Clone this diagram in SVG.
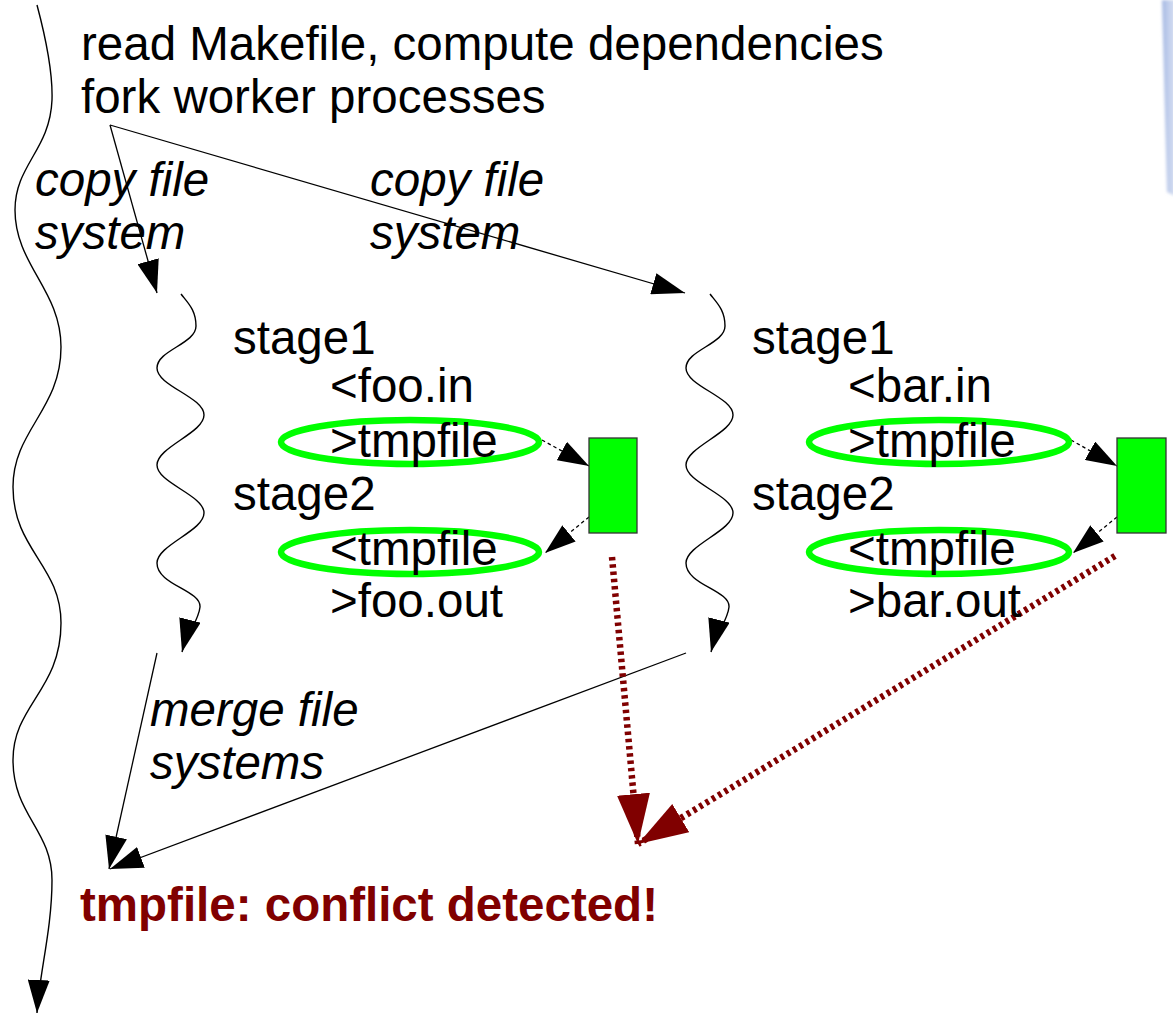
<svg xmlns="http://www.w3.org/2000/svg" xmlns:xlink="http://www.w3.org/1999/xlink" width="1173" height="1017" viewBox="0 0 1173 1017">
  <style>
    .txt { font-family: "Liberation Sans", Arial, sans-serif; font-size: 47.5px; fill: #000; }
    .it { font-style: italic; }
    .warn { font-weight: bold; fill: #800000; }
    .thin { fill: none; stroke: #000; stroke-width: 1.3; }
    .wave { fill: none; stroke: #000; stroke-width: 1.4; }
    .dash { fill: none; stroke: #000; stroke-width: 1.3; stroke-dasharray: 3.5 3; }
    .conflict { fill: none; stroke: #800000; stroke-width: 6.5; stroke-dasharray: 3.5 3.8; }
    .ring { fill: none; stroke: #00ff00; stroke-width: 6.5; }
    .box { fill: #00ff00; stroke: #333; stroke-width: 1.3; }
  </style>
  <defs>
    <marker id="head" viewBox="0 0 33 22" markerWidth="33" markerHeight="22" refX="33" refY="11" orient="auto" markerUnits="userSpaceOnUse">
      <path d="M0,0 L33,11 L0,22 z" fill="#000"/>
    </marker>
    <marker id="headSmall" viewBox="0 0 31 21" markerWidth="31" markerHeight="21" refX="31" refY="10.5" orient="auto" markerUnits="userSpaceOnUse">
      <path d="M0,0 L31,10.5 L0,21 z" fill="#000"/>
    </marker>
    <marker id="headRed" viewBox="0 0 50 33" markerWidth="50" markerHeight="33" refX="50" refY="16.5" orient="auto" markerUnits="userSpaceOnUse">
      <path d="M0,0 L50,16.5 L0,33 z" fill="#800000"/>
    </marker>
    <linearGradient id="edgeGlow" x1="0" y1="0" x2="1" y2="0">
      <stop offset="0" stop-color="#a3b7e2"/>
      <stop offset="0.5" stop-color="#c2cfec"/>
      <stop offset="1" stop-color="#d6dff2"/>
    </linearGradient>
    <filter id="soft" x="-50%" y="-10%" width="200%" height="120%">
      <feGaussianBlur stdDeviation="1.5"/>
    </filter>
    <!-- worker timeline (wavy, ends in an arrow) -->
    <path id="workerWave" d="M181,294 C188,303 196,310 196,326 C196,344 157,350 157,368 C157,386 204,397 204,415 C204,433 157,447 157,465 C157,483 204,495 204,513 C204,531 157,545 157,563 C157,585 201,590 200,607 C199,620 186,636 182,652"/>
  </defs>

  <rect width="1173" height="1017" fill="#fff"/>

  <!-- soft blue edge at the top right -->
  <path d="M1162,0 L1175,0 L1175,196 L1167,192 z" fill="url(#edgeGlow)" filter="url(#soft)"/>

  <g id="connectors">
    <!-- main process timeline -->
    <path class="wave" marker-end="url(#head)" d="M37,5 C45,35 53,70 52,100 C50,150 15,165 15,210 C15,265 61,290 61,347 C61,410 13,430 13,487 C13,550 61,565 61,623 C61,690 13,705 13,760 C13,815 52,830 52,880 C52,930 39,975 37,1013"/>
    <!-- worker timelines -->
    <use xlink:href="#workerWave" class="wave" marker-end="url(#head)"/>
    <use xlink:href="#workerWave" class="wave" marker-end="url(#head)" transform="translate(529,0)"/>
    <!-- fork -->
    <line class="thin" x1="110" y1="125" x2="157" y2="293" marker-end="url(#head)"/>
    <line class="thin" x1="110" y1="125" x2="685" y2="293" marker-end="url(#head)"/>
    <!-- merge -->
    <line class="thin" x1="157" y1="653" x2="109" y2="869" marker-end="url(#head)"/>
    <line class="thin" x1="686" y1="653" x2="110" y2="869" marker-end="url(#head)"/>
    <!-- tmpfile writes/reads -->
    <line class="dash" x1="542" y1="440" x2="589" y2="466" marker-end="url(#headSmall)"/>
    <line class="dash" x1="589" y1="517" x2="545" y2="553" marker-end="url(#headSmall)"/>
    <line class="dash" x1="1071" y1="440" x2="1117" y2="466" marker-end="url(#headSmall)"/>
    <line class="dash" x1="1117" y1="517" x2="1073" y2="553" marker-end="url(#headSmall)"/>
    <!-- conflicting results -->
    <line class="conflict" x1="612" y1="557" x2="638" y2="844" marker-end="url(#headRed)"/>
    <line class="conflict" x1="1115" y1="556" x2="638" y2="844" marker-end="url(#headRed)"/>
  </g>

  <g id="master">
    <text class="txt" x="81" y="60">read Makefile, compute dependencies</text>
    <text class="txt" x="81" y="113">fork worker processes</text>
  </g>

  <g id="fork-label-1">
    <text class="txt it" x="35" y="196">copy file</text>
    <text class="txt it" x="35" y="249">system</text>
  </g>

  <g id="fork-label-2">
    <text class="txt it" x="370" y="196">copy file</text>
    <text class="txt it" x="370" y="249">system</text>
  </g>

  <g id="worker-foo">
    <ellipse class="ring" cx="410" cy="442" rx="129" ry="22"/>
    <ellipse class="ring" cx="410" cy="552" rx="129" ry="22"/>
    <text class="txt" x="233" y="354">stage1</text>
    <text class="txt" x="330" y="402">&lt;foo.in</text>
    <text class="txt" x="330" y="457">&gt;tmpfile</text>
    <text class="txt" x="233" y="510">stage2</text>
    <text class="txt" x="330" y="565">&lt;tmpfile</text>
    <text class="txt" x="330" y="617">&gt;foo.out</text>
  </g>

  <g id="tmpfile-foo">
    <rect class="box" x="589" y="438" width="48" height="95"/>
  </g>

  <g id="worker-bar">
    <ellipse class="ring" cx="939" cy="442" rx="130" ry="22"/>
    <ellipse class="ring" cx="939" cy="552" rx="130" ry="22"/>
    <text class="txt" x="752" y="354">stage1</text>
    <text class="txt" x="848" y="402">&lt;bar.in</text>
    <text class="txt" x="848" y="457">&gt;tmpfile</text>
    <text class="txt" x="752" y="510">stage2</text>
    <text class="txt" x="848" y="565">&lt;tmpfile</text>
    <text class="txt" x="848" y="617">&gt;bar.out</text>
  </g>

  <g id="tmpfile-bar">
    <rect class="box" x="1117" y="438" width="49" height="95"/>
  </g>

  <g id="merge-label">
    <text class="txt it" x="150" y="726">merge file</text>
    <text class="txt it" x="150" y="779">systems</text>
  </g>

  <g id="result">
    <text class="txt warn" x="80" y="921">tmpfile: conflict detected!</text>
  </g>
</svg>
